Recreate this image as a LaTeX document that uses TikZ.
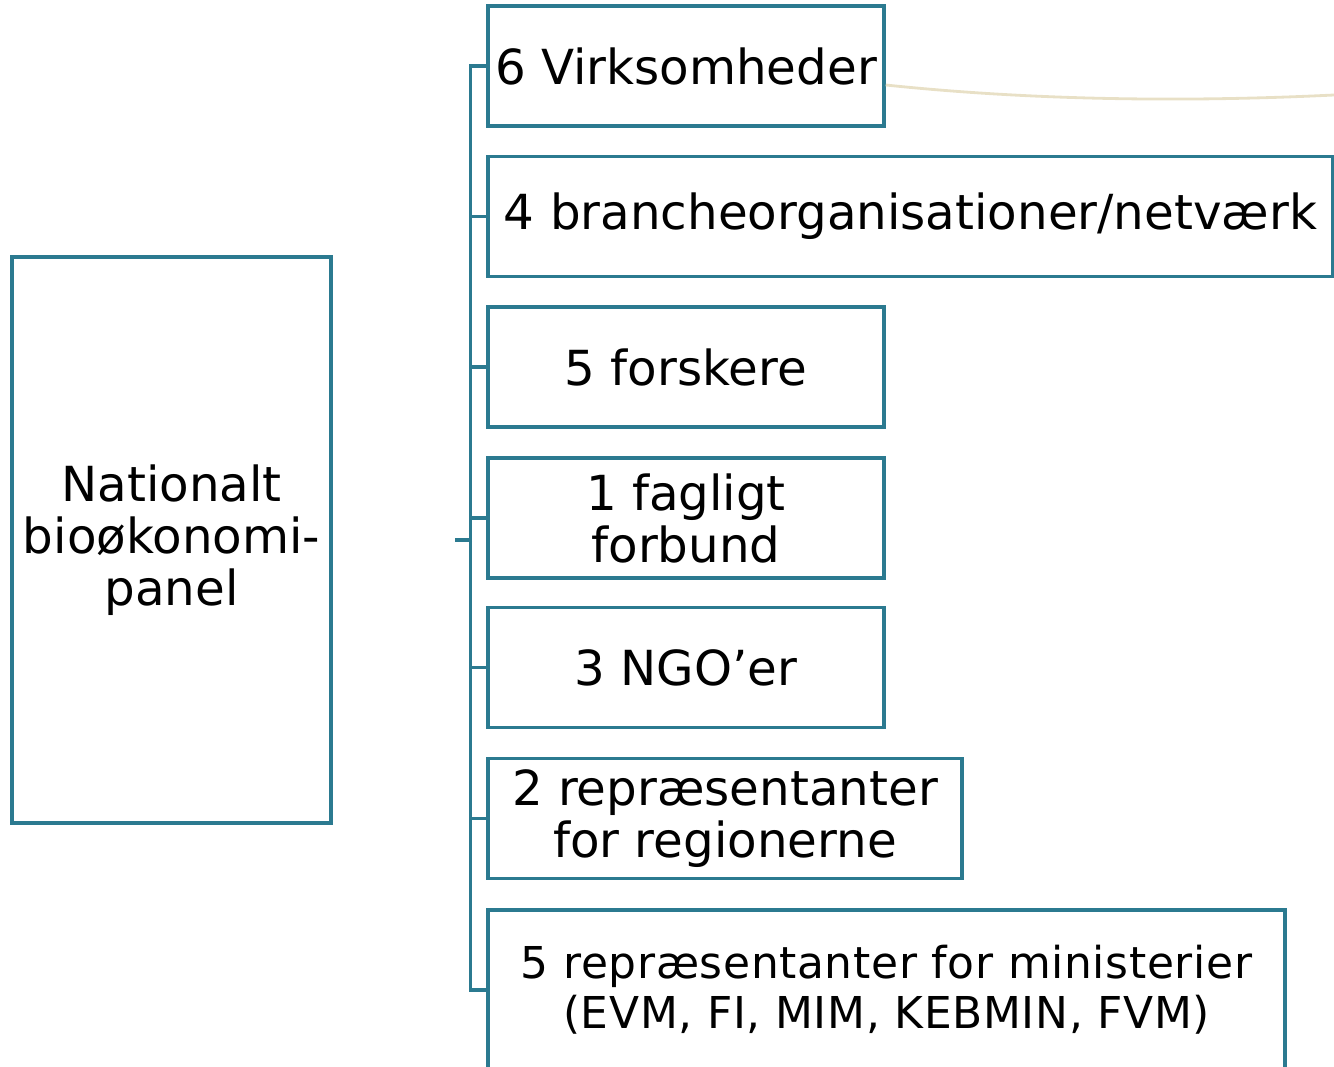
\documentclass[tikz,border=0pt]{standalone}
\usepackage{fontspec}
\setmainfont{DejaVu Sans}
\usepackage{xcolor}
\usepackage{tikz}
\usetikzlibrary{calc}
\definecolor{panelteal}{HTML}{2B7A90}
\definecolor{paletan}{HTML}{E8E0C6}

\tikzset{
  member/.style={draw=panelteal, line width=2pt, align=center, inner sep=0pt,
    minimum height=2.4cm, font=\fontsize{27.5}{29.6}\selectfont},
  link/.style={draw=panelteal, line width=2pt},
}

\begin{document}
\begin{tikzpicture}[x=0.02cm, y=0.02cm]
            \useasboundingbox (0,0) rectangle (1334,-1067);

            % Draw the panel box on the left
            \node[member, minimum width=6.38cm, minimum height=11.32cm] (panel) at (171.5,-540)
                {Nationalt\\bioøkonomi-\\panel};

            % Draw the member boxes on the right
            \node[member, minimum width=7.92cm] (virk) at (686,-66) {6 Virksomheder};
            \node[member, minimum width=16.9cm] (branche) at (910.5,-216.5) {4 brancheorganisationer/netværk};
            \node[member, minimum width=7.92cm] (forsk) at (686,-367) {5 forskere};
            \node[member, minimum width=7.92cm] (fag) at (686,-518) {1 fagligt\\forbund};
            \node[member, minimum width=7.92cm] (ngo) at (686,-667.5) {3 NGO’er};
            \node[member, minimum width=9.48cm] (region) at (725,-818.5) {2 repræsentanter\\for regionerne};
            \node[member, minimum width=15.94cm, minimum height=3.2cm,
                  font=\fontsize{25}{28.4}\selectfont\addfontfeatures{LetterSpace=1.5}] (minist) at (886.5,-990)
                {5 repræsentanter for ministerier\\(EVM, FI, MIM, KEBMIN, FVM)};

            % Draw the bracket joining the members
            \draw[link] (virk.west) -- ++(-16,0) |- (minist.west);
            \foreach \memb in {branche, forsk, fag, ngo, region} {
                \draw[link] (\memb.west) -- ++(-16,0);
            }
            \coordinate (stub) at (472,-540);
            \draw[link] (stub) -- ++(-17,0);

            % Optional: the pale line leaving the top box
            \coordinate (rim) at (1334,-95);
            \draw[paletan, line width=1.6pt] ([yshift=-0.38cm]virk.east)
                .. controls (1000,-97) and (1150,-104) .. (rim);
        \end{tikzpicture}
\end{document}
